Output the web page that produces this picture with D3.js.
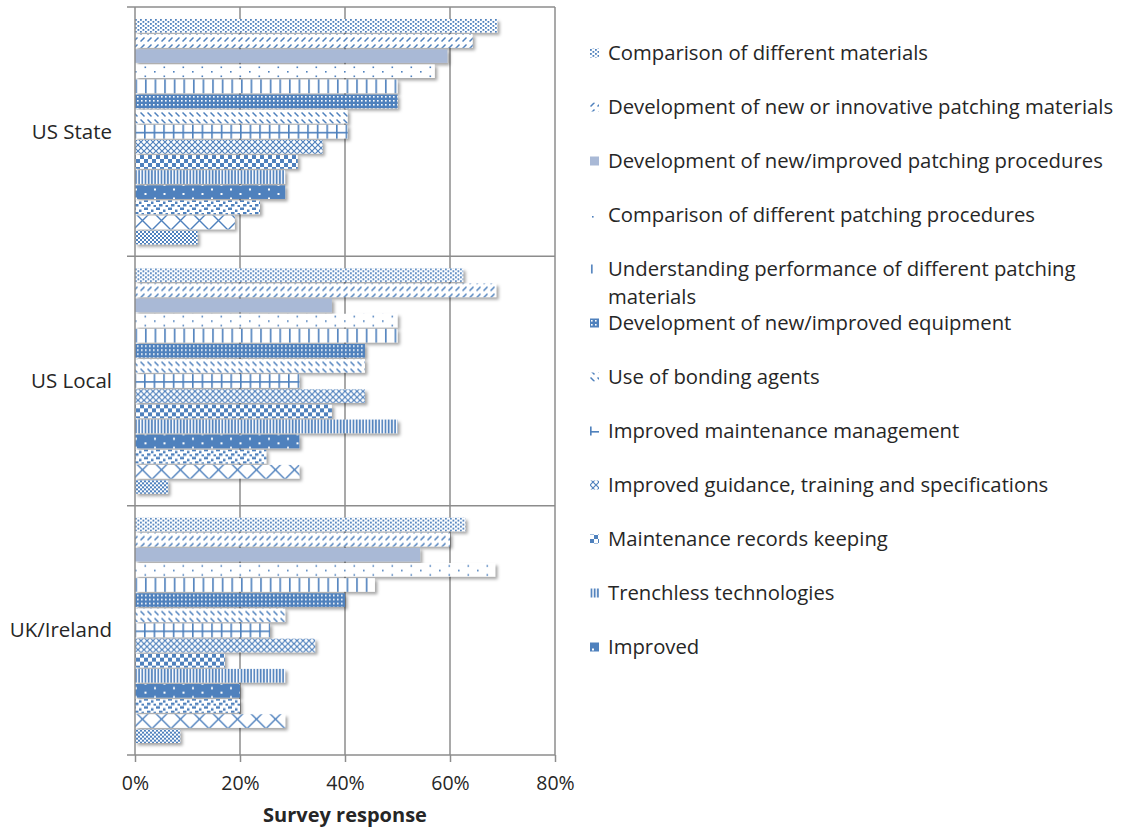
<!DOCTYPE html>
<html>
<head>
<meta charset="utf-8">
<script src="https://cdn.jsdelivr.net/npm/d3@7"></script>
<style>
  body { margin: 0; background: #fff; }
  text { font-family: "Open Sans", Lato, sans-serif; fill: #262626; }
</style>
</head>
<body>
<div id="chart"></div>
<script>
// Data
var groups = ["US State", "US Local", "UK/Ireland"];
var seriesNames = [
  "Comparison of different materials",
  "Development of new or innovative patching materials",
  "Development of new/improved patching procedures",
  "Comparison of different patching procedures",
  "Understanding performance of different patching materials",
  "Development of new/improved equipment",
  "Use of bonding agents",
  "Improved maintenance management",
  "Improved guidance, training and specifications",
  "Maintenance records keeping",
  "Trenchless technologies",
  "Improved",
  "Series 13",
  "Series 14",
  "Series 15"
];
var legendCount = 12;
var usState   = [69.0, 64.3, 59.5, 57.1, 50.0, 50.0, 40.5, 40.5, 35.7, 31.0, 28.6, 28.6, 23.8, 19.0, 11.9];
var usLocal   = [62.5, 68.8, 37.5, 50.0, 50.0, 43.8, 43.8, 31.3, 43.8, 37.5, 50.0, 31.3, 25.0, 31.3, 6.3];
var ukIreland = [62.9, 60.0, 54.3, 68.6, 45.7, 40.0, 28.6, 25.7, 34.3, 17.1, 28.6, 20.0, 20.0, 28.6, 8.6];
var xTicks = [0, 20, 40, 60, 80];

var groupValues = {"US State": usState, "US Local": usLocal, "UK/Ireland": ukIreland};

var W = 1138, H = 827;
var blue = "#4f81bd", gridCol = "#8c8c8c";

var svg = d3.select("#chart").append("svg")
    .attr("width", W).attr("height", H);

var defs = svg.append("defs");

// drop shadow for bars
var f = defs.append("filter").attr("id", "shadow")
    .attr("x", "-5%").attr("y", "-30%").attr("width", "120%").attr("height", "180%");
f.append("feDropShadow").attr("dx", 2.5).attr("dy", 2.5)
    .attr("stdDeviation", 1.6).attr("flood-color", "#000").attr("flood-opacity", 0.35);

// Fill patterns, one per series
function pat(id, w, h, draw, bg) {
  var p = defs.append("pattern").attr("id", id)
      .attr("patternUnits", "userSpaceOnUse").attr("width", w).attr("height", h);
  p.append("rect").attr("width", w).attr("height", h).attr("fill", bg || "#fff");
  draw(p);
  return p;
}
function r(p, x, y, w, h, c) {
  p.append("rect").attr("x", x).attr("y", y).attr("width", w).attr("height", h).attr("fill", c || blue);
}
function ln(p, d, sw, c) {
  p.append("path").attr("d", d).attr("stroke", c || blue).attr("stroke-width", sw).attr("fill", "none");
}

pat("p0", 5, 4, function (p) { r(p, 0, 0, 1.8, 1.8); r(p, 2.5, 2, 1.8, 1.8); });
pat("p1", 7, 7, function (p) { ln(p, "M0.5,6.5 L4.5,2.5", 1.5); });
pat("p2", 4, 4, function (p) {}, "#a9b9d6");
pat("p3", 19, 9, function (p) { r(p, 2, 1, 1.6, 1.6); r(p, 11.5, 5.5, 1.6, 1.6); });
pat("p4", 9.6, 10, function (p) { r(p, 1, 0, 1.6, 10); });
pat("p5", 4, 4, function (p) { r(p, 1, 1, 1.6, 1.6, "#fff"); }, blue);
pat("p6", 7, 7, function (p) { ln(p, "M0.5,0.5 L4.5,4.5", 1.5); });
pat("p7", 9.6, 9.6, function (p) { r(p, 0, 0, 1.6, 9.6); r(p, 0, 0, 9.6, 1.6); });
pat("p8", 6, 6, function (p) { ln(p, "M0,0 L6,6 M6,0 L0,6", 1.2); });
pat("p9", 8, 8, function (p) { r(p, 0, 0, 4, 4); r(p, 4, 4, 4, 4); });
pat("p10", 3.2, 6, function (p) { r(p, 0.6, 0, 1.7, 6); });
pat("p11", 19, 9, function (p) { r(p, 2, 1.5, 2, 2, "#fff"); r(p, 11.5, 6, 2, 2, "#fff"); }, blue);
pat("p12", 12, 8, function (p) { r(p, 0, 0.5, 4, 2.5); r(p, 7, 2.5, 2.5, 2.5); r(p, 3, 5, 3.5, 2.5); r(p, 9.5, 6, 2.5, 2); });
pat("p13", 19, 19, function (p) { ln(p, "M0,0 L19,19 M19,0 L0,19", 1.4); })
    .attr("patternTransform", "translate(0,-5)");
pat("p14", 4, 4, function (p) { r(p, 0, 0, 2, 2); r(p, 2, 2, 2, 2); });

// Scales
var x = d3.scaleLinear().domain([0, 80]).range([135, 555]);
var y0 = d3.scaleBand().domain(groups).range([7, 755]);
var y1 = d3.scaleBand().domain(seriesNames)
    .range([12, y0.bandwidth() - 12]).paddingInner(0.1);

// Grid lines
var grid = svg.append("g");
grid.selectAll("line.v").data(xTicks.slice(1)).enter().append("line")
    .attr("x1", function (d) { return x(d); }).attr("x2", function (d) { return x(d); })
    .attr("y1", 7).attr("y2", 755)
    .attr("stroke", gridCol).attr("stroke-width", 1.5);
var bounds = groups.map(function (g) { return y0(g); });
grid.selectAll("line.h").data(bounds).enter().append("line")
    .attr("x1", 127).attr("x2", x(80))
    .attr("y1", function (d) { return d; }).attr("y2", function (d) { return d; })
    .attr("stroke", gridCol).attr("stroke-width", 1.5);

// Bars
var barGroups = svg.selectAll("g.layer").data(groups).enter().append("g")
    .attr("class", "layer")
    .attr("transform", function (g) { return "translate(0," + y0(g) + ")"; });

barGroups.selectAll("rect")
    .data(function (g) {
      return groupValues[g].map(function (v, i) { return {key: seriesNames[i], value: v, i: i}; });
    })
    .enter().append("rect")
    .attr("x", x(0))
    .attr("y", function (d) { return y1(d.key); })
    .attr("width", function (d) { return x(d.value) - x(0); })
    .attr("height", y1.bandwidth())
    .attr("fill", function (d) { return "url(#p" + d.i + ")"; })
    .attr("filter", "url(#shadow)");

// X axis
var xAxis = svg.append("g").attr("transform", "translate(0,755)")
    .call(d3.axisBottom(x).tickValues(xTicks).tickSize(7).tickPadding(14)
      .tickFormat(function (d) { return d + "%"; }));
xAxis.select(".domain").attr("stroke", gridCol).attr("stroke-width", 1.5)
    .attr("d", "M127,0H" + x(80));
xAxis.selectAll(".tick line").attr("stroke", gridCol).attr("stroke-width", 1.5);
xAxis.selectAll(".tick text").attr("font-size", 19.5).attr("fill", "#262626")
    .style("font-family", "'Open Sans', sans-serif");

// Y axis line
svg.append("line").attr("x1", x(0)).attr("x2", x(0)).attr("y1", 7).attr("y2", 755)
    .attr("stroke", gridCol).attr("stroke-width", 1.5);

// Group labels
svg.selectAll("text.grp").data(groups).enter().append("text")
    .attr("class", "grp")
    .attr("x", 112)
    .attr("y", function (g) { return y0(g) + y0.bandwidth() / 2 + 7; })
    .attr("text-anchor", "end").attr("font-size", 20.5)
    .text(function (g) { return g; });

// Axis title
svg.append("text").attr("x", 345).attr("y", 822)
    .attr("text-anchor", "middle").attr("font-size", 20).attr("font-weight", "bold")
    .text("Survey response");

// Legend
var legend = svg.selectAll("g.leg").data(seriesNames.slice(0, legendCount)).enter().append("g")
    .attr("class", "leg")
    .attr("transform", function (d, i) { return "translate(590," + (53 + i * 54) + ")"; });
legend.append("rect").attr("x", 0).attr("y", -4.5).attr("width", 9).attr("height", 9)
    .attr("fill", function (d, i) { return "url(#p" + i + ")"; });
legend.append("text").attr("x", 18).attr("y", 7).attr("font-size", 20.3)
    .each(function (d) {
      var t = d3.select(this);
      if (d.indexOf("Understanding") === 0) {
        t.append("tspan").attr("x", 18).attr("dy", 0).text("Understanding performance of different patching");
        t.append("tspan").attr("x", 18).attr("dy", 28).text("materials");
      } else {
        t.text(d);
      }
    });
</script>
</body>
</html>
